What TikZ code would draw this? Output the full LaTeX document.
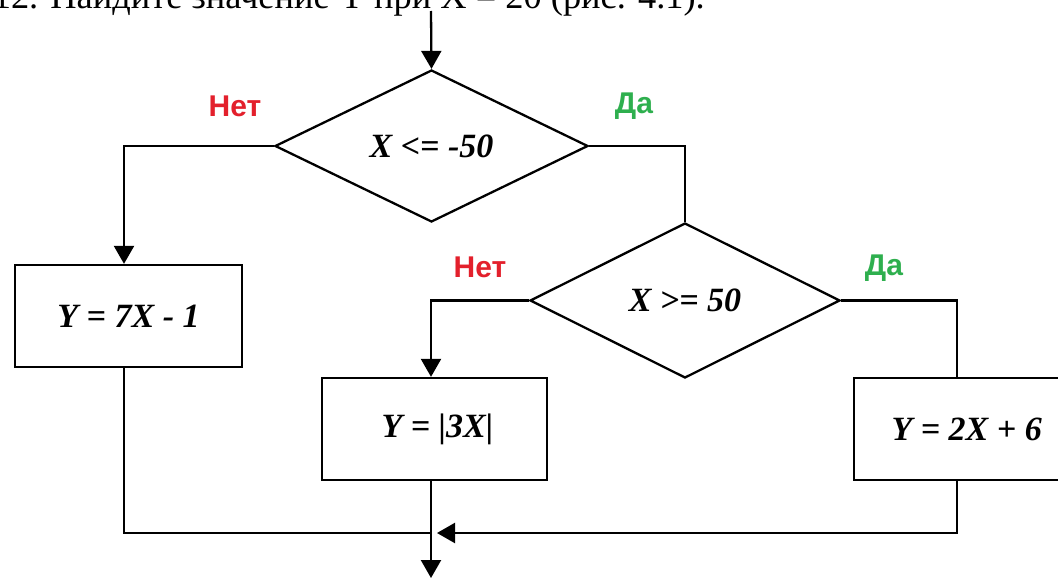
\documentclass[tikz,border=0pt]{standalone}
\usepackage{fontspec}
\setmainfont{Liberation Serif}
\newfontfamily\lsans{Liberation Sans}
\usetikzlibrary{shapes.geometric,arrows.meta,calc}
\definecolor{nored}{HTML}{E3202C}
\definecolor{yesgreen}{HTML}{2EAF4E}
\begin{document}
\begin{tikzpicture}[x=1pt,y=-1pt,
  line width=2.3pt,
  flow/.style={-{Triangle[length=18pt,width=20pt]}},
  plain/.style={},
  cond/.style={diamond,draw,inner sep=0pt,font=\fontsize{34}{36}\selectfont\bfseries\itshape},
  proc/.style={rectangle,draw,inner sep=0pt,font=\fontsize{34}{36}\selectfont\bfseries\itshape},
  nolab/.style={font=\lsans\bfseries\fontsize{30}{32}\selectfont,text=nored,inner sep=0pt},
  yeslab/.style={font=\lsans\bfseries\fontsize{30}{32}\selectfont,text=yesgreen,inner sep=0pt}]
\useasboundingbox (0,0) rectangle (1058,578);
% heading (cut off at the top in the reference)
\node[anchor=base east,inner sep=0pt,font=\fontsize{36.4}{38}\selectfont] (title) at (706,9) {12. Найдите значение Y при X = 20 (рис. 4.1).};
\coordinate (start) at (431,11);
% decisions
\node[cond,minimum width=313pt,minimum height=152pt] (d1) at (431.5,146) {X <= -50};
\node[cond,minimum width=310pt,minimum height=155pt] (d2) at (685,300.5) {X >= 50};
% process boxes
\node[proc,minimum width=227pt,minimum height=102pt] (b1) at (128.5,316) {Y = 7X - 1};
\node[proc,minimum width=225pt,minimum height=102pt] (b2) at (434.5,429) {\hspace*{6pt}Y = |3X|};
\node[proc,minimum width=227pt,minimum height=102pt,anchor=west] (b3) at (853,429) {\hspace*{-2pt}Y = 2X + 6};
% column coordinates
\coordinate (c1) at (124,0);
\coordinate (c2) at (431,0);
\coordinate (c3) at (957,0);
\coordinate (merge) at (431,533);
\coordinate (mergeR) at (437,533);
\coordinate (stop) at (431,578);
% labels
\node[nolab] (n1) at (235,106) {Нет};
\node[yeslab] (y1) at (634,106) {Да};
\node[nolab] (n2) at (480,267) {Нет};
\node[yeslab] (y2) at (884,268) {Да};
% connectors
\draw[flow] (start) -- (d1.north);
\draw[flow] (d1.west) -| (c1 |- b1.north);
\draw[plain] (d1.east) -| (d2.north);
\draw[flow] (d2.west) -| (c2 |- b2.north);
\draw[plain] (d2.east) -| (c3 |- b3.north);
\draw[plain] (c1 |- b1.south) |- (merge);
\draw[flow] (c3 |- b3.south) |- (mergeR);
\draw[flow] (c2 |- b2.south) -- (stop);
\end{tikzpicture}
\end{document}
